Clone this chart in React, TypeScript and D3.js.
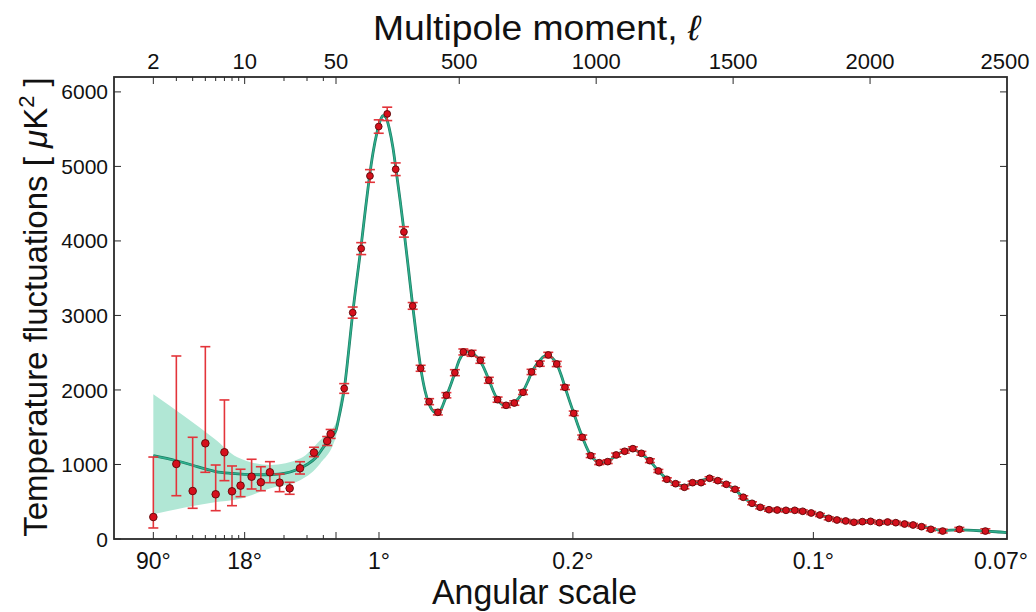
import React from "react";
import * as d3 from "d3";

// ---------- data ----------
const LOW_L = [2, 3, 4, 5, 6, 7, 8, 9.3, 11.3, 13.3, 15.6, 18.5, 22.1, 26.5, 33.9, 42.8, 45.5];
const LOW_D = [295, 1007, 644, 1284, 600, 1164, 640, 716, 836, 761, 895, 756, 680, 949, 1159, 1315, 1409];
const LOW_LO = [148, 581, 412, 895, 380, 783, 447, 568, 671, 648, 756, 635, 600, 872, 1105, 1255, 1350];
const LOW_HI = [1100, 2456, 1365, 2581, 993, 1866, 980, 936, 1070, 970, 1038, 872, 761, 1037, 1231, 1375, 1470];

const HIGH_L = [80, 111, 142, 174, 206, 237, 268, 298, 330, 359, 390, 422, 453, 484, 515, 545, 577, 608, 640, 671,
  701, 733, 764, 794, 825, 856, 886, 918, 949, 980, 1011, 1042, 1073, 1104, 1134, 1165, 1196, 1227, 1258, 1290,
  1322, 1352, 1383, 1414, 1444, 1475, 1507, 1537, 1569, 1599, 1631, 1661, 1693, 1725, 1754, 1785, 1817, 1849, 1879,
  1911, 1941, 1972, 2002, 2034, 2064, 2094, 2126, 2157, 2188, 2222, 2265, 2326, 2421];
const HIGH_D = [2020, 3038, 3897, 4872, 5535, 5705, 4962, 4121, 3128, 2291, 1843, 1700, 1929, 2232, 2510, 2492, 2398, 2130, 1870, 1794,
  1825, 1969, 2242, 2353, 2470, 2349, 2036, 1687, 1365, 1118, 1024, 1038, 1128, 1177, 1212, 1150, 1051, 913, 801, 742,
  694, 756, 756, 815, 783, 734, 667, 560, 479, 425, 393, 389, 385, 385, 372, 349, 322, 278, 255,
  242, 224, 233, 237, 219, 228, 219, 201, 188, 165, 130, 107, 130, 107];
const HIGH_ERR = [65, 75, 80, 85, 90, 90, 85, 70, 45, 40, 40, 35, 35, 40, 40, 40, 40, 40, 35, 30,
  30, 30, 35, 35, 35, 35, 30, 30, 30, 25, 25, 25, 25, 25, 25, 25, 25, 20, 20, 20,
  20, 20, 20, 20, 20, 20, 20, 20, 20, 20, 20, 20, 20, 20, 20, 20, 20, 20, 20,
  20, 20, 20, 20, 20, 20, 20, 20, 20, 20, 20, 25, 25, 30];

const MODEL_L = [2, 3, 4, 5, 6, 8, 10, 13, 16, 20, 25, 30, 35, 40, 45, 50, 60, 70, 80, 95, 110, 125, 140, 155, 170, 185, 200,
  212, 222, 232, 245, 258, 270, 285, 300, 315, 330, 345, 360, 375, 390, 405, 420, 435, 450, 468, 485, 500, 515, 530,
  545, 560, 577, 593, 610, 625, 640, 655, 670, 685, 700, 717, 733, 750, 765, 780, 795, 810, 825, 840, 856, 872, 886,
  902, 918, 934, 950, 965, 980, 995, 1011, 1026, 1042, 1058, 1073, 1090, 1105, 1120, 1135, 1150, 1165, 1180, 1196,
  1212, 1227, 1243, 1258, 1274, 1290, 1306, 1322, 1337, 1352, 1368, 1383, 1399, 1414, 1430, 1444, 1460, 1475, 1491,
  1507, 1522, 1537, 1553, 1569, 1584, 1599, 1615, 1631, 1661, 1693, 1725, 1754, 1785, 1817, 1849, 1879, 1911, 1941,
  1972, 2002, 2034, 2064, 2094, 2126, 2157, 2188, 2222, 2265, 2326, 2421, 2460, 2500];
const MODEL_D = [1118, 1050, 990, 940, 905, 880, 868, 862, 865, 880, 930, 1000, 1090, 1230, 1350, 1460, 1620, 1800, 2010, 2480, 3000, 3450, 3880, 4350, 4800, 5180, 5460,
  5620, 5680, 5660, 5500, 5250, 4930, 4520, 4080, 3610, 3130, 2680, 2280, 1990, 1810, 1715, 1690, 1750, 1890, 2060, 2240, 2400, 2490, 2520,
  2500, 2460, 2390, 2270, 2120, 1980, 1870, 1810, 1790, 1800, 1830, 1890, 1980, 2110, 2240, 2330, 2400, 2450, 2460, 2430, 2350, 2200, 2040,
  1860, 1690, 1520, 1365, 1230, 1120, 1060, 1025, 1020, 1040, 1080, 1120, 1160, 1185, 1200, 1200, 1180, 1145, 1100, 1045,
  980, 915, 855, 805, 765, 738, 720, 715, 725, 745, 765, 785, 800, 805, 795, 780, 755, 730, 700,
  662, 610, 560, 515, 478, 448, 425, 405, 395, 387, 384, 380, 370, 350, 322, 290, 262, 245, 235,
  232, 232, 228, 224, 216, 202, 187, 168, 140, 115, 122, 106, 97, 85];

const BAND_L = [2, 5.9, 8.8, 15.8, 26.8, 38, 50, 67, 80];
const BAND_LO = [331, 493, 533, 680, 792, 1016, 1380, 1700, 1930];
const BAND_HI = [1942, 1342, 1097, 993, 1083, 1329, 1560, 1900, 2090];

const Y_TICKS = [0, 1000, 2000, 3000, 4000, 5000, 6000];
const TOP_MAJOR = [2, 10, 50];
const TOP_LINEAR = [500, 1000, 1500, 2000];
const TOP_LABELS = [2, 10, 50, 500, 1000, 1500, 2000, 2500];
const LOG_MINOR = [3, 4, 5, 6, 7, 8, 9, 20, 30, 40];
const ANG_L = [2, 10, 207, 915, 1793, 2500];
const ANG_LABELS = ["90°", "18°", "1°", "0.2°", "0.1°", "0.07°"];

// ---------- layout ----------
const W = 1036, H = 612;
const L = 114, R = 1007, T = 77, B = 539;
const XSPLIT = 336;

const xLog = d3.scaleLog().domain([1, 50]).range([L, XSPLIT]);
const xLin = d3.scaleLinear().domain([50, 2500]).range([XSPLIT, R]);
const x = (l: number) => (l <= 50 ? xLog(l) : xLin(l));
const y = d3.scaleLinear().domain([0, 6200]).range([B, T]);

const FONT = "'Liberation Sans', 'DejaVu Sans', Arial, sans-serif";

export default function App() {
  const model = MODEL_L.map((l, i) => [x(l), y(MODEL_D[i])] as [number, number]);
  const linePath = d3.line().curve(d3.curveMonotoneX)(model) || "";
  const band = BAND_L.map((l, i) => ({ px: x(l), lo: y(BAND_LO[i]), hi: y(BAND_HI[i]) }));
  const areaPath =
    d3
      .area<{ px: number; lo: number; hi: number }>()
      .x((d) => d.px)
      .y0((d) => d.lo)
      .y1((d) => d.hi)
      .curve(d3.curveMonotoneX)(band) || "";

  const pts = [
    ...LOW_L.map((l, i) => ({ l, d: LOW_D[i], lo: LOW_LO[i], hi: LOW_HI[i], r: 3.8 })),
    ...HIGH_L.map((l, i) => ({ l, d: HIGH_D[i], lo: HIGH_D[i] - HIGH_ERR[i], hi: HIGH_D[i] + HIGH_ERR[i], r: 3.4 })),
  ];

  const errColor = "#e3343a";
  const axisColor = "#2a2a2a";
  const cap = 5;

  return (
    <svg
      width={W}
      height={H}
      viewBox={`0 0 ${W} ${H}`}
      style={{ position: "absolute", left: 0, top: 0, background: "#fff" }}
    >
      <rect x={0} y={0} width={W} height={H} fill="#fff" />
      {/* band */}
      <path d={areaPath} fill="#b1e7d5" stroke="none" />
      {/* model curve */}
      <path d={linePath} fill="none" stroke="#1a7e64" strokeWidth={2.8} />
      <path d={linePath} fill="none" stroke="#30b08e" strokeWidth={1.4} />
      {/* error bars */}
      <g stroke={errColor} strokeWidth={1.6}>
        {pts.map((p, i) => {
          const px = x(p.l);
          const y1 = y(p.hi);
          const y0 = y(p.lo);
          return (
            <g key={i}>
              <line x1={px} x2={px} y1={y1} y2={y0} />
              <line x1={px - cap} x2={px + cap} y1={y1} y2={y1} />
              <line x1={px - cap} x2={px + cap} y1={y0} y2={y0} />
            </g>
          );
        })}
      </g>
      {/* points */}
      <g>
        {pts.map((p, i) => (
          <circle key={i} cx={x(p.l)} cy={y(p.d)} r={p.r} fill="#d5101c" stroke="#5c0808" strokeWidth={0.9} />
        ))}
      </g>

      {/* frame */}
      <rect x={L} y={T} width={R - L} height={B - T} fill="none" stroke={axisColor} strokeWidth={1.8} />

      {/* y ticks */}
      <g stroke={axisColor} strokeWidth={1}>
        {Y_TICKS.map((v) => (
          <g key={v}>
            <line x1={L} x2={L + 7} y1={y(v)} y2={y(v)} />
            <line x1={R} x2={R - 7} y1={y(v)} y2={y(v)} />
          </g>
        ))}
      </g>
      <g fontFamily={FONT} fontSize={21} fill="#111" textAnchor="end">
        {Y_TICKS.map((v) => (
          <text key={v} x={L - 6} y={y(v)} dy="0.36em">
            {v}
          </text>
        ))}
      </g>

      {/* top & bottom ticks */}
      <g stroke={axisColor} strokeWidth={1}>
        {TOP_MAJOR.map((l) => (
          <g key={"tm" + l}>
            <line x1={x(l)} x2={x(l)} y1={T} y2={T + 7} />
            <line x1={x(l)} x2={x(l)} y1={B} y2={B - 7} />
          </g>
        ))}
        {LOG_MINOR.map((l) => (
          <g key={"mn" + l}>
            <line x1={x(l)} x2={x(l)} y1={T} y2={T + 4} />
            <line x1={x(l)} x2={x(l)} y1={B} y2={B - 4} />
          </g>
        ))}
        {TOP_LINEAR.map((l) => (
          <line key={"tl" + l} x1={x(l)} x2={x(l)} y1={T} y2={T + 7} />
        ))}
        {ANG_L.filter((l) => l > 50 && l < 2500).map((l) => (
          <line key={"al" + l} x1={x(l)} x2={x(l)} y1={B} y2={B - 7} />
        ))}
      </g>
      <g fontFamily={FONT} fontSize={22} fill="#111" textAnchor="middle">
        {TOP_LABELS.map((l) => (
          <text key={l} x={x(l) - (l === 2500 ? 2 : 0)} y={T - 8}>
            {l}
          </text>
        ))}
      </g>
      <g fontFamily={FONT} fontSize={23} fill="#111" textAnchor="middle">
        {ANG_L.map((l, i) => (
          <text key={l} x={x(l) - (l === 2500 ? 6 : 0)} y={B + 30}>
            {ANG_LABELS[i]}
          </text>
        ))}
      </g>

      {/* axis titles */}
      <text
        x={373}
        y={40}
        fontFamily={FONT}
        fontSize={35}
        fill="#111"
        textLength={327}
        lengthAdjust="spacingAndGlyphs"
      >
        Multipole moment, <tspan fontStyle="italic">ℓ</tspan>
      </text>
      <text
        x={432}
        y={604}
        fontFamily={FONT}
        fontSize={35}
        fill="#111"
        textLength={205}
        lengthAdjust="spacingAndGlyphs"
      >
        Angular scale
      </text>
      <text
        transform={`translate(47, 307) rotate(-90)`}
        textAnchor="middle"
        fontFamily={FONT}
        fontSize={33}
        fill="#111"
      >
        Temperature fluctuations [ <tspan fontStyle="italic">μ</tspan>K
        <tspan fontSize={22} dy={-13}>2</tspan>
        <tspan dy={13}> ]</tspan>
      </text>
    </svg>
  );
}
